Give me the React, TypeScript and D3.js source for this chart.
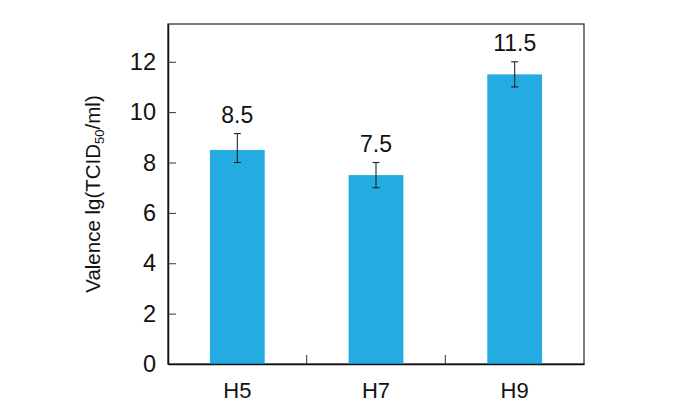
import React, { useEffect, useRef } from 'react';
import * as d3 from 'd3';

const categories = ['H5', 'H7', 'H9'];
const values = [8.5, 7.5, 11.5];
const errLow = [0.5, 0.5, 0.5];
const errHigh = [0.65, 0.5, 0.5];
const yTicks = [0, 2, 4, 6, 8, 10, 12];

const App = () => {
  const svgRef = useRef<SVGSVGElement>(null);

  useEffect(() => {
    const svg = d3.select(svgRef.current);
    svg.selectAll('*').remove();
    const left = 168, right = 584, top = 24, bottom = 364;
    const font = '"Liberation Sans", Arial, sans-serif';

    const x = d3.scaleBand().domain(categories).range([left, right]).paddingInner(0).paddingOuter(0);
    const y = d3.scaleLinear().domain([0, 13.5]).range([bottom, top]);
    const barW = x.bandwidth() * 0.395;

    // frame
    svg.append('rect')
      .attr('x', left).attr('y', top)
      .attr('width', right - left).attr('height', bottom - top)
      .attr('fill', 'none').attr('stroke', '#333').attr('stroke-width', 1.3);

    // bars
    svg.selectAll('rect.bar')
      .data(values)
      .enter().append('rect')
      .attr('class', 'bar')
      .attr('x', (d, i) => x(categories[i])! + x.bandwidth() / 2 - barW / 2)
      .attr('y', d => y(d))
      .attr('width', barW)
      .attr('height', d => y(0) - y(d))
      .attr('fill', '#23abe2');

    // error bars
    const eb = svg.append('g').attr('stroke', '#222').attr('stroke-width', 1.1);
    values.forEach((v, i) => {
      const cx = x(categories[i])! + x.bandwidth() / 2;
      const y1 = y(v + errHigh[i]), y2 = y(v - errLow[i]);
      eb.append('line').attr('x1', cx).attr('x2', cx).attr('y1', y1).attr('y2', y2);
      eb.append('line').attr('x1', cx - 3.5).attr('x2', cx + 3.5).attr('y1', y1).attr('y2', y1);
      eb.append('line').attr('x1', cx - 3.5).attr('x2', cx + 3.5).attr('y1', y2).attr('y2', y2);
    });

    // value labels
    svg.selectAll('text.val')
      .data(values)
      .enter().append('text')
      .attr('class', 'val')
      .attr('x', (d, i) => x(categories[i])! + x.bandwidth() / 2)
      .attr('y', (d, i) => y(d + errHigh[i]) - 11)
      .attr('text-anchor', 'middle')
      .attr('font-family', font).attr('font-size', 23).attr('fill', '#111')
      .text(d => d.toFixed(1));

    // y axis
    const ya = svg.append('g')
      .attr('transform', `translate(${left},0)`)
      .call(d3.axisLeft(y).tickValues(yTicks).tickSizeInner(-8).tickSizeOuter(0).tickPadding(12));
    ya.select('.domain').attr('stroke', '#111').attr('stroke-width', 1.5);
    ya.selectAll('.tick line').attr('stroke', '#333');
    ya.selectAll('.tick text').attr('font-family', font).attr('font-size', 23.5).attr('fill', '#111');

    // x axis
    const xa = svg.append('g')
      .attr('transform', `translate(0,${bottom})`)
      .call(d3.axisBottom(x).tickSize(0).tickPadding(18));
    xa.select('.domain').attr('stroke', '#111').attr('stroke-width', 1.5);
    xa.selectAll('.tick text').attr('font-family', font).attr('font-size', 22).attr('fill', '#111');
    xa.selectAll('line.sep')
      .data(categories.slice(1))
      .enter().append('line')
      .attr('class', 'sep')
      .attr('x1', d => x(d)!).attr('x2', d => x(d)!)
      .attr('y1', 0).attr('y2', -9)
      .attr('stroke', '#333');

    // y title
    const t = svg.append('text')
      .attr('transform', `translate(100,${(top + bottom) / 2}) rotate(-90)`)
      .attr('text-anchor', 'middle')
      .attr('font-family', font).attr('font-size', 20.5).attr('fill', '#111');
    t.append('tspan').text('Valence lg(TCID');
    t.append('tspan').attr('font-size', 13).attr('dy', 4).text('50');
    t.append('tspan').attr('dy', -4).text('/ml)');
  }, []);

  return <svg ref={svgRef} width={662} height={403} style={{ display: 'block' }} viewBox="8 8 662 403" />;
};

export default App;
